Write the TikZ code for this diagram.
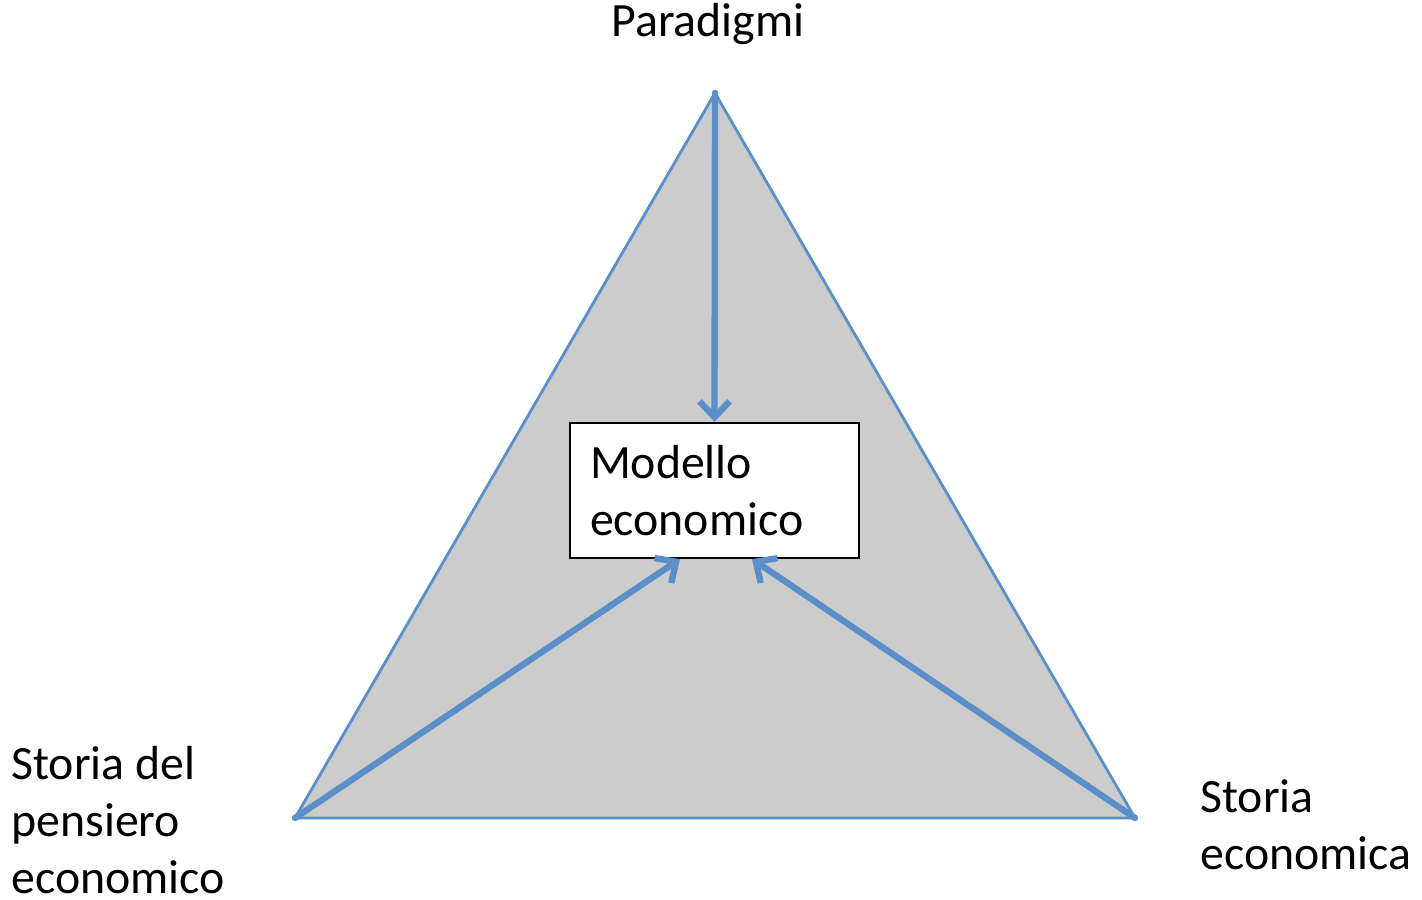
\documentclass[tikz,border=0pt]{standalone}
\usepackage{fontspec}
\setmainfont{Carlito}
\usetikzlibrary{arrows.meta}
\definecolor{bordo}{RGB}{91,143,201}
\definecolor{riempi}{RGB}{204,204,204}

\begin{document}
\begin{tikzpicture}[thick, every node/.style={font=\fontsize{13.6}{16.2}\selectfont},
    freccia/.style={draw=bordo, line width=1.8pt, line cap=round, -{Straight Barb[length=1.6mm,width=3mm]}}]
        \useasboundingbox (0,0) rectangle (14.22,9);
        % Triangolo
        \coordinate (alto) at (7.15,8.07);
        \coordinate (sx) at (2.95,0.82);
        \coordinate (dx) at (11.35,0.82);
        \draw[bordo, fill=riempi, line width=0.8pt] (alto) -- (sx) -- (dx) -- cycle;
        % Modello (centro)
        \node[draw=black, fill=white, line width=0.6pt, minimum width=2.89cm, minimum height=1.35cm,
            text width=2.49cm, inner sep=0.2cm, align=left] (modello) at (7.145,4.095) {Modello\\economico};
        % Frecce
        \draw[freccia] (alto) -- (modello.north);
        \draw[freccia] (sx) -- ([xshift=-0.345cm]modello.south);
        \draw[freccia] (dx) -- ([xshift=0.375cm]modello.south);
        % Etichette
        \node[anchor=base] (paradigmi) at (7.08,8.63) {Paradigmi};
        \node[anchor=west, align=left, inner sep=0] (pensiero) at (0.10,0.80) {Storia del\\pensiero\\economico};
        \node[anchor=west, align=left, inner sep=0] (storia) at (11.99,0.75) {Storia\\economica};
    \end{tikzpicture}
\end{document}
